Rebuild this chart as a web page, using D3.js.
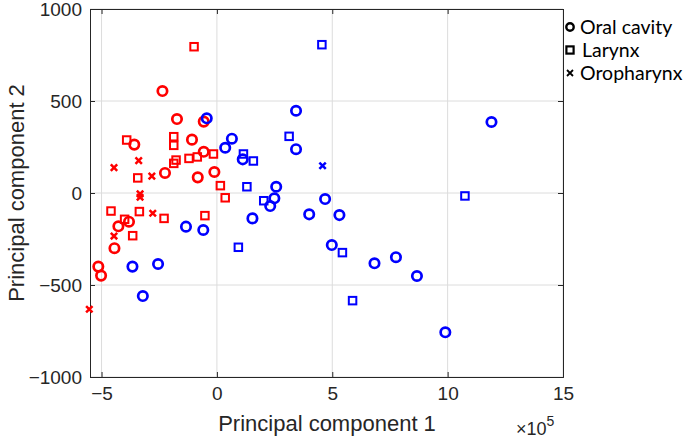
<!DOCTYPE html>
<html>
<head>
<meta charset="utf-8">
<script src="https://cdn.jsdelivr.net/npm/d3@7"></script>
<style>
  body { margin: 0; background: #fff; }
  svg text { font-family: "Liberation Sans", Arial, sans-serif; fill: #262626; }
</style>
</head>
<body>
<div id="chart"></div>
<script>
// PC1 values in units of 1e5, PC2 values as plotted
var redCircle = [
  [-2.36, 554], [-1.73, 402], [-0.57, 388], [-3.58, 263], [-1.08, 290], [-0.57, 224],
  [-2.25, 109], [-0.83, 85], [-0.11, 114], [-3.81, -156], [-4.27, -181], [-4.44, -300],
  [-5.14, -400], [-5.02, -449]
];
var redSquare = [
  [-0.99, 795], [-3.91, 288], [-1.87, 306], [-1.87, 259], [-1.87, 161], [-1.77, 179],
  [-1.21, 188], [-0.85, 196], [-0.15, 212], [-3.43, 82], [-3.36, -101], [-4.59, -98],
  [-3.65, -232], [-2.29, -138], [-0.52, -123], [0.15, 40], [0.36, -26], [-4.0, -143]
];
var redCross = [
  [-4.46, 138], [-3.39, 176], [-2.82, 92], [-3.33, -5], [-3.33, -23], [-2.78, -110],
  [-4.46, -234], [-5.53, -632]
];
var blueCircle = [
  [-0.44, 406], [0.65, 295], [0.36, 246], [1.12, 183], [3.43, 447], [3.43, 238],
  [2.57, 34], [2.49, -29], [2.31, -71], [1.54, -138], [4.0, -116], [-0.59, -201],
  [-1.34, -183], [-3.66, -400], [-2.55, -386], [-3.21, -560], [4.69, -33], [5.31, -120],
  [4.98, -283], [6.83, -382], [7.76, -349], [8.67, -451], [9.9, -757], [11.9, 386]
];
var blueSquare = [
  [4.55, 806], [3.13, 308], [1.15, 212], [1.58, 174], [1.30, 34], [2.03, -42],
  [0.93, -295], [5.44, -324], [5.88, -585], [10.75, -16]
];
var blueCross = [
  [4.58, 148]
];
var xTicks = [-5, 0, 5, 10, 15];
var yTicks = [-1000, -500, 0, 500, 1000];
var legendLabels = ["Oral cavity", "Larynx", "Oropharynx"];

var W = 692, H = 441;
var svg = d3.select("#chart").append("svg").attr("width", W).attr("height", H);

var x = d3.scaleLinear().domain([-5.5, 15]).range([90, 563]);
var y = d3.scaleLinear().domain([-1000, 1000]).range([377, 9]);

var axisColor = "#262626";
var axisFont = "'Liberation Sans', Arial, sans-serif";

// grid
svg.append("g").selectAll("line").data(xTicks).enter().append("line")
  .attr("x1", function(d) { return x(d); }).attr("x2", function(d) { return x(d); })
  .attr("y1", y(-1000)).attr("y2", y(1000))
  .attr("stroke", "#dcdcdc").attr("stroke-width", 1);
svg.append("g").selectAll("line").data(yTicks).enter().append("line")
  .attr("x1", x(-5.5)).attr("x2", x(15))
  .attr("y1", function(d) { return y(d); }).attr("y2", function(d) { return y(d); })
  .attr("stroke", "#dcdcdc").attr("stroke-width", 1);

function fmt(d) { return d < 0 ? "\u2212" + Math.abs(d) : String(d); }

// axes
var gx = svg.append("g").attr("transform", "translate(0," + y(-1000) + ")")
  .call(d3.axisBottom(x).tickValues(xTicks).tickSize(-5).tickPadding(10).tickFormat(fmt));
var gy = svg.append("g").attr("transform", "translate(" + x(-5.5) + ",0)")
  .call(d3.axisLeft(y).tickValues(yTicks).tickSize(-5).tickPadding(8).tickFormat(fmt));
var gx2 = svg.append("g").attr("transform", "translate(0," + y(1000) + ")")
  .call(d3.axisTop(x).tickValues(xTicks).tickSize(-5).tickFormat(""));
var gy2 = svg.append("g").attr("transform", "translate(" + x(15) + ",0)")
  .call(d3.axisRight(y).tickValues(yTicks).tickSize(-5).tickFormat(""));

[gx, gy, gx2, gy2].forEach(function(g) {
  g.attr("font-family", null);
  g.select(".domain").attr("stroke", axisColor).attr("stroke-width", 1);
  g.selectAll(".tick line").attr("stroke", axisColor);
  g.selectAll(".tick text").attr("font-size", 19).attr("fill", axisColor)
    .style("font-family", axisFont);
});

// axis labels
svg.append("text").attr("x", 327).attr("y", 431).attr("text-anchor", "middle")
  .attr("font-size", 22).style("font-family", axisFont).text("Principal component 1");
svg.append("text").attr("transform", "translate(24,193) rotate(-90)").attr("text-anchor", "middle")
  .attr("font-size", 22).style("font-family", axisFont).text("Principal component 2");
var mult = svg.append("text").attr("x", 516).attr("y", 435).attr("font-size", 18)
  .style("font-family", axisFont);
mult.append("tspan").text("\u00d710");
mult.append("tspan").attr("dy", -9).attr("font-size", 14).text("5");

// markers
function drawCircles(data, color) {
  svg.append("g").selectAll("circle").data(data).enter().append("circle")
    .attr("cx", function(d) { return x(d[0]); })
    .attr("cy", function(d) { return y(d[1]); })
    .attr("r", 4.7)
    .attr("fill", "none").attr("stroke", color).attr("stroke-width", 2.7);
}
function drawSquares(data, color) {
  var s = 7.5;
  svg.append("g").selectAll("rect").data(data).enter().append("rect")
    .attr("x", function(d) { return x(d[0]) - s / 2; })
    .attr("y", function(d) { return y(d[1]) - s / 2; })
    .attr("width", s).attr("height", s)
    .attr("fill", "none").attr("stroke", color).attr("stroke-width", 2);
}
function crossPath(cx, cy, h) {
  return "M" + (cx - h) + "," + (cy - h) + "L" + (cx + h) + "," + (cy + h) +
    "M" + (cx - h) + "," + (cy + h) + "L" + (cx + h) + "," + (cy - h);
}
function drawCrosses(data, color) {
  svg.append("g").selectAll("path").data(data).enter().append("path")
    .attr("d", function(d) { return crossPath(x(d[0]), y(d[1]), 3.2); })
    .attr("fill", "none").attr("stroke", color).attr("stroke-width", 2.5);
}

drawCircles(redCircle, "#ff0000");
drawSquares(redSquare, "#ff0000");
drawCrosses(redCross, "#ff0000");
drawCircles(blueCircle, "#0000ff");
drawSquares(blueSquare, "#0000ff");
drawCrosses(blueCross, "#0000ff");

// legend
var lg = svg.append("g").attr("transform", "translate(570,27)");
lg.append("circle").attr("cx", 0).attr("cy", 0).attr("r", 3.7)
  .attr("fill", "none").attr("stroke", "#000").attr("stroke-width", 2.4);
lg.append("rect").attr("x", -3.6).attr("y", 23 - 3.6).attr("width", 7.2).attr("height", 7.2)
  .attr("fill", "none").attr("stroke", "#000").attr("stroke-width", 2.2);
lg.append("path").attr("d", crossPath(0, 46, 3)).attr("stroke", "#000").attr("stroke-width", 1.8);
lg.selectAll("text.lab").data(legendLabels).enter().append("text")
  .attr("class", "lab")
  .attr("x", function(d, i) { return i === 1 ? 12 : 10; })
  .attr("y", function(d, i) { return i * 23 + 7; })
  .attr("font-size", 19.5)
  .style("font-family", "Lato, 'Open Sans', sans-serif")
  .style("fill", "#000")
  .text(function(d) { return d; });
</script>
</body>
</html>
